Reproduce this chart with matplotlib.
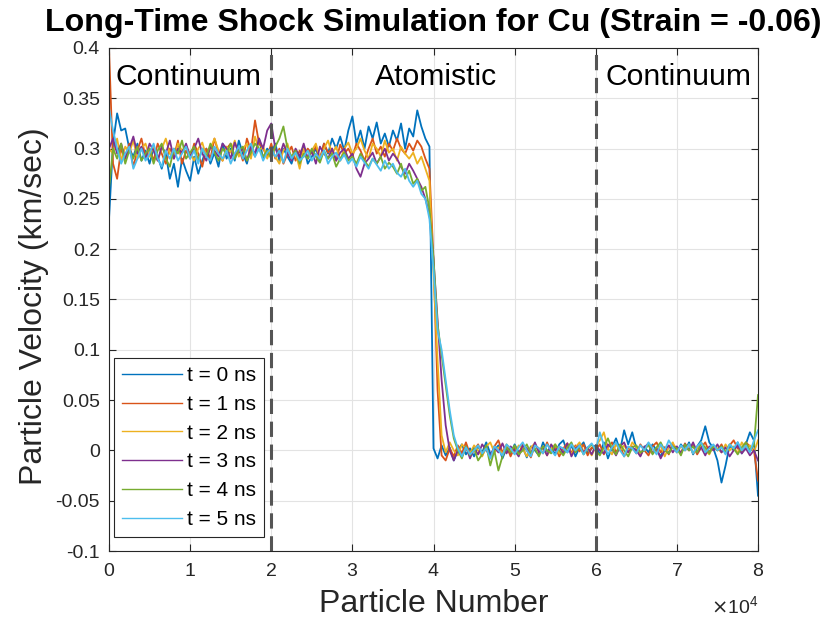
import matplotlib
matplotlib.use("Agg")
import matplotlib.pyplot as plt
from matplotlib.ticker import ScalarFormatter, FuncFormatter, MultipleLocator
import numpy as np

plt.rcParams['font.family'] = ['Liberation Sans', 'DejaVu Sans']
plt.rcParams['axes.unicode_minus'] = False

# Particle number sampling positions (every 500 particles, 0 .. 80000)
particle_number = list(range(0, 80001, 500))

# Particle velocity in m/s (converted to km/sec when plotted)
vel_t0 = [230, 305, 335, 318, 320, 300, 292, 305, 288, 298,
          285, 300, 292, 280, 295, 270, 285, 262, 290, 278,
          268, 292, 275, 288, 300, 285, 296, 282, 305, 290,
          300, 288, 308, 295, 285, 302, 292, 310, 290, 300,
          295, 305, 288, 300, 292, 285, 298, 290, 302, 285,
          292, 300, 288, 305, 295, 310, 300, 312, 298, 318,
          332, 305, 318, 300, 322, 310, 326, 305, 315, 302,
          318, 308, 325, 300, 320, 312, 338, 322, 310, 302,
          2, -8, 5, -5, 3, -10, 0, 6, -4, 2,
          -6, 4, -2, 8, -3, 0, 5, -8, 2, -4,
          6, -2, 3, -7, 4, 0, -5, 8, -1, 3,
          -4, 6, 10, -2, 5, -6, 3, 8, -3, 2,
          5, -4, 8, -8, 3, 12, 0, 20, 6, 18,
          2, -5, 4, -2, 6, 0, -6, 3, -3, 5,
          -2, 6, 0, 8, -4, 4, 10, 24, 8, 2,
          -10, -32, -15, 5, 0, 8, -3, 6, 18, 10,
          -45]
vel_t1 = [400, 285, 270, 300, 290, 305, 282, 298, 310, 292,
          300, 288, 305, 295, 285, 300, 292, 308, 285, 298,
          290, 305, 295, 282, 300, 290, 310, 295, 288, 300,
          305, 292, 300, 288, 310, 298, 328, 305, 300, 292,
          305, 290, 300, 285, 295, 302, 288, 298, 292, 300,
          295, 302, 290, 305, 296, 300, 288, 304, 295, 300,
          292, 305, 298, 288, 300, 310, 295, 302, 292, 305,
          298, 310, 300, 295, 305, 298, 308, 302, 290, 280,
          190, 60, -5, -10, 2, -6, 5, -3, 8, -4,
          0, 6, -5, 3, -8, 4, 10, -2, 5, -6,
          3, -4, 6, 0, -7, 5, 2, -3, 8, -2,
          4, -6, 2, 7, -3, 5, -1, 6, -5, 3,
          0, 6, -4, 3, 8, -2, 5, -6, 2, 4,
          -3, 6, 0, -5, 4, 8, -2, 3, -4, 6,
          2, -3, 7, 0, 5, -4, 3, 8, -2, 4,
          0, 6, -3, 5, 10, 2, -2, 8, 4, 0,
          -30]
vel_t2 = [300, 295, 310, 288, 302, 296, 308, 290, 300, 305,
          292, 302, 288, 300, 310, 295, 290, 305, 298, 302,
          295, 288, 300, 306, 292, 300, 310, 298, 288, 302,
          296, 308, 292, 300, 305, 290, 312, 298, 302, 290,
          300, 292, 285, 298, 305, 290, 296, 280, 300, 290,
          298, 305, 290, 300, 308, 295, 302, 288, 300, 306,
          295, 300, 310, 298, 290, 305, 300, 292, 308, 296,
          300, 288, 302, 295, 290, 296, 285, 292, 280, 268,
          175, 90, 15, -2, 8, 0, -5, 6, 2, -3,
          5, 0, -6, 4, 8, -2, 3, -4, 6, 0,
          -3, 5, 2, -6, 3, 7, -2, 4, -5, 2,
          6, -3, 0, 5, -4, 3, 8, -1, 2, -5,
          4, 10, 18, 2, -4, 6, 0, 5, -2, 8,
          3, -4, 2, 6, -3, 0, 5, -6, 3, 8,
          -2, 4, 0, 6, -3, 2, 8, 0, -4, 5,
          2, -2, 6, 0, 4, -3, 8, 2, 5, -2,
          10]
vel_t3 = [300, 310, 295, 305, 290, 300, 312, 295, 302, 290,
          305, 298, 288, 302, 295, 308, 290, 300, 296, 305,
          292, 300, 310, 295, 288, 302, 298, 292, 305, 300,
          290, 306, 296, 300, 288, 302, 295, 310, 300, 318,
          325, 300, 292, 305, 295, 288, 300, 292, 305, 290,
          298, 285, 302, 295, 290, 300, 288, 296, 300, 290,
          295, 280, 272, 285, 290, 296, 285, 292, 300, 288,
          295, 290, 282, 275, 285, 278, 270, 262, 250, 235,
          190, 130, 70, 25, 0, -10, 0, -6, 4, -8,
          2, -4, 6, 0, -5, 3, -2, 7, -3, 4,
          0, -6, 5, 2, -4, 8, -2, 3, -5, 6,
          0, 4, -3, 7, -6, 2, 5, -2, 3, -4,
          5, 0, -3, 6, 2, -5, 4, 8, -2, 3,
          0, -6, 3, 7, -3, 2, -8, 0, 5, -2,
          4, -3, 6, 0, 8, -2, 3, -5, 4, 0,
          6, -2, 3, -6, 0, 5, -3, 2, -5, 0,
          -10]
vel_t4 = [260, 300, 290, 305, 285, 298, 290, 302, 288, 295,
          300, 285, 298, 305, 290, 282, 300, 295, 308, 290,
          296, 302, 288, 300, 292, 305, 296, 288, 300, 295,
          305, 290, 298, 302, 288, 296, 305, 300, 292, 298,
          290, 302, 310, 322, 300, 292, 298, 285, 295, 290,
          300, 292, 286, 298, 290, 295, 282, 290, 296, 288,
          292, 285, 295, 288, 282, 290, 285, 292, 280, 286,
          282, 275, 285, 270, 278, 265, 270, 258, 262, 240,
          190, 125, 95, 65, 35, 12, 0, -8, 4, -5,
          2, -10, -4, 5, -15, 0, -20, -6, 3, -2,
          5, -4, 0, 6, -3, 2, -6, 4, 0, -3,
          6, 0, -5, 3, 8, -2, 4, -4, 2, 6,
          0, -5, 3, 12, 2, -4, 6, 0, -6, 3,
          5, -2, 0, 6, -4, 3, 8, 0, -3, 4,
          2, -5, 6, 0, 4, -2, 7, 3, -3, 5,
          0, 4, -2, 6, 2, -4, 3, 8, 0, 5,
          55]
vel_t5 = [340, 318, 300, 285, 295, 302, 280, 290, 300, 288,
          295, 305, 290, 282, 298, 290, 300, 288, 295, 302,
          290, 298, 285, 300, 292, 288, 302, 295, 290, 298,
          285, 295, 302, 290, 298, 305, 292, 300, 288, 296,
          300, 292, 298, 286, 300, 290, 296, 288, 292, 298,
          288, 295, 290, 298, 285, 292, 296, 288, 294, 285,
          290, 282, 292, 286, 280, 290, 284, 278, 288, 280,
          285, 276, 272, 280, 268, 262, 268, 255, 250, 230,
          180, 120, 100, 70, 40, 15, 2, -6, 3, -4,
          0, 5, -3, 2, -8, 4, 0, -5, 6, 2,
          -4, 3, 8, 0, -6, 5, 2, -3, 6, 0,
          -5, 4, 2, -2, 6, 0, 5, -4, 3, 7,
          0, 18, 5, -4, 3, 8, 0, -6, 4, 2,
          -3, 5, 0, 8, 2, -4, 6, 0, 10, 3,
          -2, 5, 0, 6, -3, 4, 8, -2, 2, 6,
          0, 3, -4, 6, 2, 8, 0, 5, -2, 10,
          20]

series = [vel_t0, vel_t1, vel_t2, vel_t3, vel_t4, vel_t5]
labels = ['t = 0 ns', 't = 1 ns', 't = 2 ns', 't = 3 ns', 't = 4 ns', 't = 5 ns']
colors = ['#0072BD', '#D95319', '#EDB120', '#7E2F8E', '#77AC30', '#4DBEEE']

region_bounds = [20000, 60000]
region_names = ['Continuum', 'Atomistic', 'Continuum']
region_label_x = [9740, 40250, 70200]
region_label_y = 0.3632

fig = plt.figure(figsize=(8.4, 6.3), dpi=100)
ax = fig.add_axes([109/840, 1-551/630, 649/840, 503/630])

x = np.array(particle_number)
for vals, lab, col in zip(series, labels, colors):
    ax.plot(x, np.array(vals) / 1000.0, color=col, lw=1.3, label=lab)

for b in region_bounds:
    ax.axvline(b, color='#555555', lw=2.2, ls=(0, (5, 2.5)))

for xt, name in zip(region_label_x, region_names):
    ax.text(xt, region_label_y, name, ha='center', va='baseline', fontsize=21.7, color='black')

ax.set_xlim(0, 80000)
ax.set_ylim(-0.1, 0.4)
ax.yaxis.set_major_locator(MultipleLocator(0.05))
ax.yaxis.set_major_formatter(FuncFormatter(lambda v, p: '%g' % round(v, 4)))
ax.xaxis.set_major_locator(MultipleLocator(10000))
fmt = ScalarFormatter(useMathText=True)
fmt.set_powerlimits((0, 0))
ax.xaxis.set_major_formatter(fmt)

ax.grid(True, color='#e3e3e3', lw=0.8)
ax.set_axisbelow(True)
for s in ax.spines.values():
    s.set_color('#262626')
    s.set_linewidth(0.8)
ax.tick_params(direction='in', length=5, width=0.8, top=True, right=True,
               colors='#262626', labelsize=14)
ax.tick_params(axis='x', pad=9)
ax.tick_params(axis='y', pad=6.5)
ax.xaxis.OFFSETTEXTPAD = 10.5
ax.xaxis.get_offset_text().set_fontsize(14)
ax.xaxis.get_offset_text().set_color('#262626')

ax.set_xlabel('Particle Number', fontsize=23, color='#262626', labelpad=6)
ax.set_ylabel('Particle Velocity (km/sec)', fontsize=23, color='#262626')
ax.yaxis.set_label_coords(-0.0925, 0.487)
ax.set_title('Long-Time Shock Simulation for Cu (Strain = -0.06)', fontsize=23.1,
             fontweight='bold', color='black', pad=12)

leg = ax.legend(loc='lower left', bbox_to_anchor=(0.0077, 0.028), borderaxespad=0,
                fontsize=15, frameon=True, fancybox=False, framealpha=1,
                edgecolor='#262626', handlelength=2.9, handletextpad=0.24,
                labelspacing=0.47, borderpad=0.38)
leg.get_frame().set_linewidth(0.8)
for line in leg.get_lines():
    line.set_linewidth(1.0)

fig.savefig('out.png', dpi=100)
